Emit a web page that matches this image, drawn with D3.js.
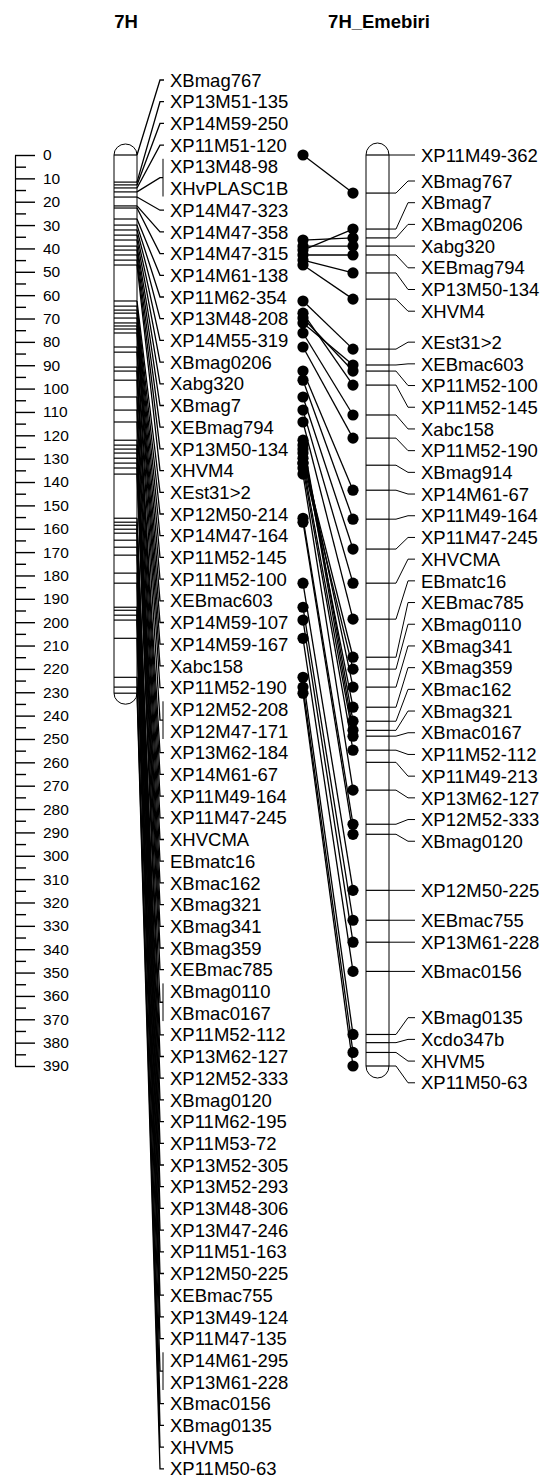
<!DOCTYPE html>
<html>
<head>
<meta charset="utf-8">
<script src="https://cdn.jsdelivr.net/npm/d3@7"></script>
<style>
  body { margin: 0; background: #fff; }
  svg text { font-family: Arial, "Liberation Sans", sans-serif; fill: #000; }
</style>
</head>
<body>
<svg id="chart" width="544" height="1479"></svg>
<script>
// ---- map data (positions in cM) ----
const leftTitle = "7H";
const rightTitle = "7H_Emebiri";

const leftNames = ["XBmag767","XP13M51-135","XP14M59-250","XP11M51-120","XP13M48-98","XHvPLASC1B",
  "XP14M47-323","XP14M47-358","XP14M47-315","XP14M61-138","XP11M62-354","XP13M48-208","XP14M55-319",
  "XBmag0206","Xabg320","XBmag7","XEBmag794","XP13M50-134","XHVM4","XEst31>2","XP12M50-214",
  "XP14M47-164","XP11M52-145","XP11M52-100","XEBmac603","XP14M59-107","XP14M59-167","Xabc158",
  "XP11M52-190","XP12M52-208","XP12M47-171","XP13M62-184","XP14M61-67","XP11M49-164","XP11M47-245",
  "XHVCMA","EBmatc16","XBmac162","XBmag321","XBmag341","XBmag359","XEBmac785","XBmag0110",
  "XBmac0167","XP11M52-112","XP13M62-127","XP12M52-333","XBmag0120","XP11M62-195","XP11M53-72",
  "XP13M52-305","XP13M52-293","XP13M48-306","XP13M47-246","XP11M51-163","XP12M50-225","XEBmac755",
  "XP13M49-124","XP11M47-135","XP14M61-295","XP13M61-228","XBmac0156","XBmag0135","XHVM5","XP11M50-63"];
const leftPos = [0, 11.6, 12.8, 14.1, 15.8, 15.8, 18.0, 21.8, 22.7, 27.4, 30.0, 32.1, 34.3,
  36.4, 39.0, 40.7, 42.8, 45.0, 47.1, 62.5, 64.7, 66.4, 67.7, 69.8, 71.9, 73.2, 74.5, 76.2,
  82.2, 84.4, 84.4, 90.8, 92.5, 96.4, 103.6, 109.2, 114.3, 122.1, 124.2, 125.9, 127.6, 129.8,
  131.9, 131.9, 134.0, 136.6, 155.5, 157.2, 158.5, 160.2, 161.9, 164.9, 167.9, 171.3, 179.0,
  183.3, 193.6, 194.9, 197.0, 199.1, 199.1, 206.9, 223.6, 227.8, 230.4];

const rightNames = ["XP11M49-362","XBmag767","XBmag7","XBmag0206","Xabg320","XEBmag794","XP13M50-134",
  "XHVM4","XEst31>2","XEBmac603","XP11M52-100","XP11M52-145","Xabc158","XP11M52-190","XBmag914",
  "XP14M61-67","XP11M49-164","XP11M47-245","XHVCMA","EBmatc16","XEBmac785","XBmag0110","XBmag341",
  "XBmag359","XBmac162","XBmag321","XBmac0167","XP11M52-112","XP11M49-213","XP13M62-127",
  "XP12M52-333","XBmag0120","XP12M50-225","XEBmac755","XP13M61-228","XBmac0156","XBmag0135",
  "Xcdo347b","XHVM5","XP11M50-63"];
const rightPos = [0, 16.3, 31.7, 35.5, 39.0, 42.8, 50.5, 61.7, 83.1, 89.9, 92.5, 98.5, 111.3,
  121.2, 132.8, 143.5, 155.9, 168.7, 183.3, 198.7, 215.0, 220.1, 227.8, 236.4, 242.4, 246.3,
  248.8, 254.8, 260.0, 271.9, 286.5, 290.8, 314.8, 327.6, 337.0, 349.5, 376.5, 380.0, 384.2, 390.0];

const rulerMax = 390;

// ---- layout constants ----
const FONT = 18.5;
const GAP = 21.7;
const svg = d3.select("#chart");
const y = d3.scaleLinear().domain([0, rulerMax]).range([155, 1066]);

// ---- ruler ----
const majorTicks = d3.range(0, rulerMax + 1, 10);
const minorTicks = d3.range(5, rulerMax, 10);
const rulerG = svg.append("g").attr("transform", "translate(15,0)");
rulerG.call(d3.axisRight(y).tickValues(majorTicks).tickSize(20).tickSizeOuter(0).tickPadding(8)
  .tickFormat(d3.format("d")));
rulerG.append("g").call(d3.axisRight(y).tickValues(minorTicks).tickSize(11).tickSizeOuter(0)
  .tickFormat(""));
rulerG.selectAll("g g .domain").remove();
rulerG.selectAll(".domain").attr("stroke", "#000").attr("stroke-width", 1.2);
rulerG.selectAll(".tick line").attr("stroke", "#000").attr("stroke-width", 1.4);
rulerG.selectAll(".tick text").attr("font-size", 15.5).attr("font-family", "Arial, 'Liberation Sans', sans-serif")
  .attr("fill", "#000");

// ---- helpers ----
function groupMarkers(names, pos) {
  const groups = [];
  names.forEach((n, i) => {
    const g = groups[groups.length - 1];
    if (g && g.pos === pos[i]) g.names.push(n);
    else groups.push({ pos: pos[i], names: [n] });
  });
  return groups;
}

// spread label slots apart; each cluster of touching labels is centred
// on the middle of the span of its markers
function spread(desired, gap, minTop) {
  const cl = [];
  desired.forEach(d => {
    cl.push({ n: 1, lo: d, hi: d, top: Math.max(minTop, d) });
    while (cl.length > 1) {
      const b = cl[cl.length - 1], a = cl[cl.length - 2];
      if (a.top + a.n * gap > b.top + 0.01) {
        const n = a.n + b.n, lo = a.lo, hi = b.hi;
        cl.splice(-2, 2, { n, lo, hi, top: Math.max(minTop, (lo + hi) / 2 - (n - 1) * gap / 2) });
      } else break;
    }
  });
  const out = [];
  cl.forEach(c => { for (let k = 0; k < c.n; k++) out.push(c.top + k * gap); });
  return out;
}

function chromPath(x0, x1, y0, y1, cap) {
  const rx = (x1 - x0) / 2;
  return `M${x0},${y0} A${rx},${cap} 0 0 1 ${x1},${y0} L${x1},${y1} A${rx},${cap} 0 0 1 ${x0},${y1} Z`;
}

// ---- left chromosome (7H) ----
const L = { x0: 114, x1: 137 };
const leftG = svg.append("g");
const lGroups = groupMarkers(leftNames, leftPos);
const lSlots = [];
lGroups.forEach(g => g.names.forEach(() => lSlots.push(y(g.pos))));
const lSlotY = spread(lSlots, GAP, 80);
let si = 0;
lGroups.forEach(g => { g.ys = g.names.map(() => lSlotY[si++]); g.ly = d3.mean(g.ys); });

leftG.append("path")
  .attr("d", chromPath(L.x0, L.x1, y(0), y(d3.max(leftPos)), 11))
  .attr("fill", "#fff").attr("stroke", "#000").attr("stroke-width", 1);
leftG.selectAll("line.mk").data(lGroups).join("line")
  .attr("x1", L.x0).attr("x2", L.x1).attr("y1", d => y(d.pos)).attr("y2", d => y(d.pos))
  .attr("stroke", "#000").attr("stroke-width", 1.2);
leftG.selectAll("path.conn").data(lGroups).join("path")
  .attr("fill", "none").attr("stroke", "#000").attr("stroke-width", 1.3)
  .attr("d", d => `M${L.x1},${y(d.pos)} L160,${d.ly} L${d.names.length > 1 ? 163 : 164},${d.ly}`);
leftG.selectAll("line.br").data(lGroups.filter(g => g.names.length > 1)).join("line")
  .attr("x1", 163).attr("x2", 163)
  .attr("y1", d => d.ys[0] - 8).attr("y2", d => d.ys[d.ys.length - 1] + 8)
  .attr("stroke", "#000").attr("stroke-width", 1);
leftG.selectAll("text").data(lGroups.flatMap(g => g.names.map((n, k) => ({ n, y: g.ys[k] })))).join("text")
  .attr("x", 170).attr("y", d => d.y).attr("dy", "0.36em").attr("font-size", FONT).text(d => d.n);

// ---- right chromosome (7H_Emebiri) ----
const R = { x0: 366, x1: 389 };
const rightG = svg.append("g");
const rSlotY = spread(rightPos.map(p => y(p)), GAP, 80);
rightG.append("path")
  .attr("d", chromPath(R.x0, R.x1, y(0), y(d3.max(rightPos)), 12))
  .attr("fill", "#fff").attr("stroke", "#000").attr("stroke-width", 1);
rightG.selectAll("line.mk").data(rightPos).join("line")
  .attr("x1", R.x0).attr("x2", R.x1).attr("y1", d => y(d)).attr("y2", d => y(d))
  .attr("stroke", "#000").attr("stroke-width", 1.2);
rightG.selectAll("path.conn").data(rightPos).join("path")
  .attr("fill", "none").attr("stroke", "#000").attr("stroke-width", 1)
  .attr("d", (d, i) => `M${R.x1},${y(d)} L396,${y(d)} L408,${rSlotY[i]} L415,${rSlotY[i]}`);
rightG.selectAll("text").data(rightNames).join("text")
  .attr("x", 421).attr("y", (d, i) => rSlotY[i]).attr("dy", "0.36em").attr("font-size", FONT).text(d => d);

// ---- shared markers joined between the two maps ----
const shared = rightNames.map((n, i) => ({ n, r: rightPos[i], l: leftPos[leftNames.indexOf(n)] }))
  .filter(d => leftNames.includes(d.n));
const linkG = svg.append("g");
linkG.selectAll("line").data(shared).join("line")
  .attr("x1", 303).attr("y1", d => y(d.l)).attr("x2", 353).attr("y2", d => y(d.r))
  .attr("stroke", "#000").attr("stroke-width", 1.3);
linkG.selectAll("circle.l").data(shared).join("circle")
  .attr("cx", 303).attr("cy", d => y(d.l)).attr("r", 5.6).attr("fill", "#000");
linkG.selectAll("circle.r").data(shared).join("circle")
  .attr("cx", 353).attr("cy", d => y(d.r)).attr("r", 5.6).attr("fill", "#000");

// ---- titles ----
svg.append("text").attr("x", 126).attr("y", 28).attr("text-anchor", "middle")
  .attr("font-size", 18.5).attr("font-weight", "bold").text(leftTitle);
svg.append("text").attr("x", 379).attr("y", 28).attr("text-anchor", "middle")
  .attr("font-size", 18.5).attr("font-weight", "bold").text(rightTitle);
</script>
</body>
</html>
